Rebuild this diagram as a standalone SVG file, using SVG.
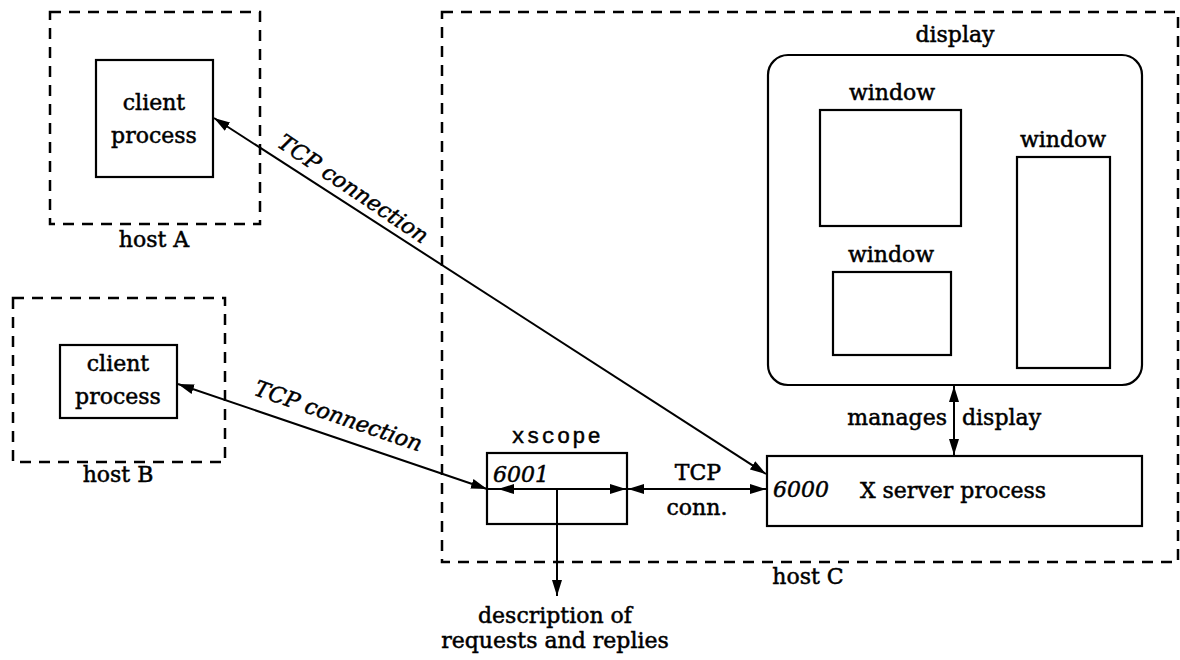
<svg xmlns="http://www.w3.org/2000/svg" width="1180" height="660" viewBox="0 0 1180 660">
<style>
text{font-family:"DejaVu Serif","Liberation Serif",serif;font-size:22px;fill:#000;stroke:#000;stroke-width:0.5}
.m{text-anchor:middle}
.i{font-style:italic}
.mono{font-family:"Liberation Mono","DejaVu Sans Mono",monospace;letter-spacing:2px}
.host{fill:none;stroke:#000;stroke-width:2.5;stroke-dasharray:11 8}
.box{fill:#fff;stroke:#000;stroke-width:2.2}
.ln{fill:none;stroke:#000;stroke-width:2}
</style>
<defs>
<marker id="ah" viewBox="0 0 16 10" refX="16" refY="5" markerWidth="16" markerHeight="10" markerUnits="userSpaceOnUse" orient="auto-start-reverse">
<path d="M0,0 L16,5 L0,10 Z" fill="#000"/>
</marker>
</defs>
<rect width="1180" height="660" fill="#fff"/>

<g id="hostA">
<rect class="host" x="50" y="12" width="210" height="212"/>
<text class="m" x="154" y="247">host A</text>
</g>
<g id="clientA">
<rect class="box" x="96" y="60" width="117" height="117"/>
<text class="m" x="154" y="110">client</text>
<text class="m" x="154" y="143">process</text>
</g>

<g id="hostB">
<rect class="host" x="13" y="298" width="212" height="164"/>
<text class="m" x="118" y="482">host B</text>
</g>
<g id="clientB">
<rect class="box" x="60" y="345" width="117" height="73"/>
<text class="m" x="118" y="371">client</text>
<text class="m" x="118" y="404">process</text>
</g>

<g id="hostC">
<rect class="host" x="442" y="12" width="736" height="550"/>
<text class="m" x="808" y="584">host C</text>
</g>

<g id="display">
<rect class="box" x="768" y="55" width="374" height="330" rx="20" ry="20"/>
<text class="m" x="955" y="42">display</text>
</g>
<g id="window1">
<rect class="box" x="820" y="110" width="141" height="116"/>
<text class="m" x="892" y="100">window</text>
</g>
<g id="window2">
<rect class="box" x="1017" y="157" width="93" height="211"/>
<text class="m" x="1063" y="147">window</text>
</g>
<g id="window3">
<rect class="box" x="833" y="272" width="118" height="83"/>
<text class="m" x="891" y="262">window</text>
</g>

<g id="xserver">
<rect class="box" x="767" y="456" width="375" height="70"/>
<text class="i" x="773" y="497">6000</text>
<text class="m" x="953" y="498">X server process</text>
</g>

<g id="xscope">
<rect class="box" x="487" y="453" width="140" height="71"/>
<text class="m mono" x="557" y="443">xscope</text>
<text class="i" x="493" y="482">6001</text>
</g>

<g id="description">
<text class="m" x="555" y="623">description of</text>
<text class="m" x="555" y="648">requests and replies</text>
</g>

<g id="connectors">
<line class="ln" x1="214" y1="118" x2="766" y2="474" marker-start="url(#ah)" marker-end="url(#ah)"/>
<text class="m i" x="349" y="195" transform="rotate(34 349 195)">TCP connection</text>
<line class="ln" x1="178" y1="384" x2="487" y2="489" marker-start="url(#ah)" marker-end="url(#ah)"/>
<text class="m i" x="336" y="423" transform="rotate(19 336 423)">TCP connection</text>
<line class="ln" x1="487" y1="489" x2="498" y2="489"/>
<line class="ln" x1="498" y1="489" x2="626" y2="489" marker-start="url(#ah)" marker-end="url(#ah)"/>
<line class="ln" x1="628" y1="489" x2="766" y2="489" marker-start="url(#ah)" marker-end="url(#ah)"/>
<text class="m" x="698" y="480">TCP</text>
<text class="m" x="697" y="515">conn.</text>
<line class="ln" x1="557" y1="489" x2="557" y2="596" marker-end="url(#ah)"/>
<line class="ln" x1="954" y1="386" x2="954" y2="455" marker-start="url(#ah)" marker-end="url(#ah)"/>
<text x="947" y="425" text-anchor="end">manages</text>
<text x="962" y="425">display</text>
</g>
</svg>
